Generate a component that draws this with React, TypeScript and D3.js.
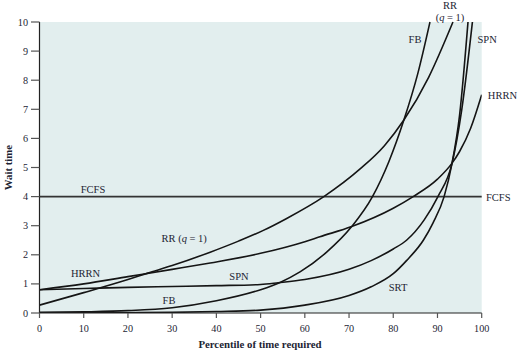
import React from "react";
import * as d3 from "d3";

const xTicks = [0, 10, 20, 30, 40, 50, 60, 70, 80, 90, 100];
const yTicks = [0, 1, 2, 3, 4, 5, 6, 7, 8, 9, 10];

const fcfsX = [0, 100];
const fcfsY = [4, 4];

const rrX = [0, 10, 20, 24.5, 30, 38.6, 45, 50.5, 55.9, 64.3, 72.5, 78, 82.4, 88, 93.5];
const rrY = [0.27, 0.7, 1.15, 1.37, 1.63, 2.09, 2.47, 2.83, 3.25, 4.0, 4.95, 5.75, 6.63, 8.1, 10];

const fbX = [0, 10, 20, 30, 40, 50, 54.4, 59, 65, 70.6, 75.3, 79, 82.4, 85.5, 88.3];
const fbY = [0.02, 0.04, 0.08, 0.18, 0.42, 0.8, 1.05, 1.42, 2.1, 2.97, 4.0, 5.2, 6.63, 8.2, 10];

const hrrnX = [0, 10, 20, 30, 38.6, 50, 60, 63.4, 70.6, 80, 84.5, 90, 93.3, 95, 97.5, 100];
const hrrnY = [0.8, 1.0, 1.25, 1.5, 1.72, 2.05, 2.45, 2.62, 2.97, 3.6, 4.0, 4.6, 5.15, 5.55, 6.35, 7.5];

const spnX = [0, 10, 20, 30, 40, 50, 54, 60, 70, 75, 80, 83, 87, 90.1, 93.3, 95.5, 97.9];
const spnY = [0.8, 0.84, 0.88, 0.91, 0.94, 0.98, 1.04, 1.15, 1.5, 1.8, 2.2, 2.5, 3.2, 4.0, 5.15, 7.0, 10];

const srtX = [0, 10, 20, 30, 40, 50, 60, 70, 75, 80, 83, 86.8, 89, 91.5, 93.3, 95, 96.9];
const srtY = [0.0, 0.005, 0.01, 0.02, 0.05, 0.1, 0.27, 0.6, 0.9, 1.35, 1.8, 2.5, 3.1, 4.0, 5.15, 6.8, 10];

const W = 520;
const H = 350;
const X0 = 39.5;
const X1 = 481.7;
const Y0 = 313;
const Y1 = 22;

const FONT = "'Liberation Serif', 'DejaVu Serif', serif";
const TXT = "#1c2433";

export default function App() {
  const x = d3.scaleLinear().domain([0, 100]).range([X0, X1]);
  const y = d3.scaleLinear().domain([0, 10]).range([Y0, Y1]);
  const line = d3
    .line<[number, number]>()
    .x((d) => x(d[0]))
    .y((d) => y(d[1]))
    .curve(d3.curveMonotoneX);

  const series: { xs: number[]; ys: number[] }[] = [
    { xs: srtX, ys: srtY },
    { xs: spnX, ys: spnY },
    { xs: hrrnX, ys: hrrnY },
    { xs: fbX, ys: fbY },
    { xs: rrX, ys: rrY },
  ];

  return (
    <svg
      width={W}
      height={H}
      style={{ position: "absolute", left: 0, top: 0, background: "#fff" }}
      fontFamily={FONT}
    >
      <defs>
        <clipPath id="plot">
          <rect x={X0} y={Y1 - 2} width={X1 - X0} height={Y0 - Y1 + 2} />
        </clipPath>
      </defs>
      <rect x={X0} y={Y1} width={X1 - X0} height={Y0 - Y1} fill="#e2eeee" />

      {/* FCFS */}
      <path
        d={line(fcfsX.map((v, i) => [v, fcfsY[i]]) as [number, number][]) || ""}
        stroke="#333"
        strokeWidth={1.7}
        fill="none"
      />

      <g clipPath="url(#plot)">
        {series.map((s, i) => (
          <path
            key={i}
            d={line(s.xs.map((v, j) => [v, s.ys[j]]) as [number, number][]) || ""}
            stroke="#151515"
            strokeWidth={1.6}
            fill="none"
          />
        ))}
      </g>

      {/* axes */}
      <line x1={X0} x2={X0} y1={Y1} y2={Y0} stroke="#222" strokeWidth={1.2} />
      <line x1={X0} x2={X1} y1={Y0} y2={Y0} stroke="#222" strokeWidth={1.2} />
      {yTicks.map((t) => (
        <g key={"y" + t}>
          <line x1={31} x2={X0} y1={y(t)} y2={y(t)} stroke="#555" strokeWidth={1.2} />
          <text x={28} y={y(t)} dy="0.35em" textAnchor="end" fontSize={10.2} fill={TXT}>
            {t}
          </text>
        </g>
      ))}
      {xTicks.map((t) => (
        <g key={"x" + t}>
          <line x1={x(t)} x2={x(t)} y1={Y0} y2={Y0 + 5} stroke="#555" strokeWidth={1.2} />
          <text x={x(t)} y={331.5} textAnchor="middle" fontSize={10.2} fill={TXT}>
            {t}
          </text>
        </g>
      ))}

      <text
        x={0}
        y={0}
        transform={`translate(11.5,${(Y0 + Y1) / 2}) rotate(-90)`}
        textAnchor="middle"
        fontSize={10.8}
        fontWeight="bold"
        fill={TXT}
      >
        Wait time
      </text>
      <text x={260} y={347.5} textAnchor="middle" fontSize={10.8} fontWeight="bold" fill={TXT}>
        Percentile of time required
      </text>

      {/* curve labels */}
      <g fontSize={10.5} fill={TXT}>
        <text x={450} y={8.5} textAnchor="middle">RR</text>
        <text x={450} y={20.5} textAnchor="middle">
          (<tspan fontStyle="italic">q</tspan> = 1)
        </text>
        <text x={415} y={42.5} textAnchor="middle">FB</text>
        <text x={477.5} y={42.5}>SPN</text>
        <text x={517} y={98.5} textAnchor="end">HRRN</text>
        <text x={486} y={200.5}>FCFS</text>
        <text x={93} y={192.5} textAnchor="middle">FCFS</text>
        <text x={161.5} y={241.5}>
          RR (<tspan fontStyle="italic">q</tspan> = 1)
        </text>
        <text x={71} y={276.5}>HRRN</text>
        <text x={239} y={279.5} textAnchor="middle">SPN</text>
        <text x={169} y={304} textAnchor="middle">FB</text>
        <text x={398} y={290.5} textAnchor="middle">SRT</text>
      </g>
    </svg>
  );
}
